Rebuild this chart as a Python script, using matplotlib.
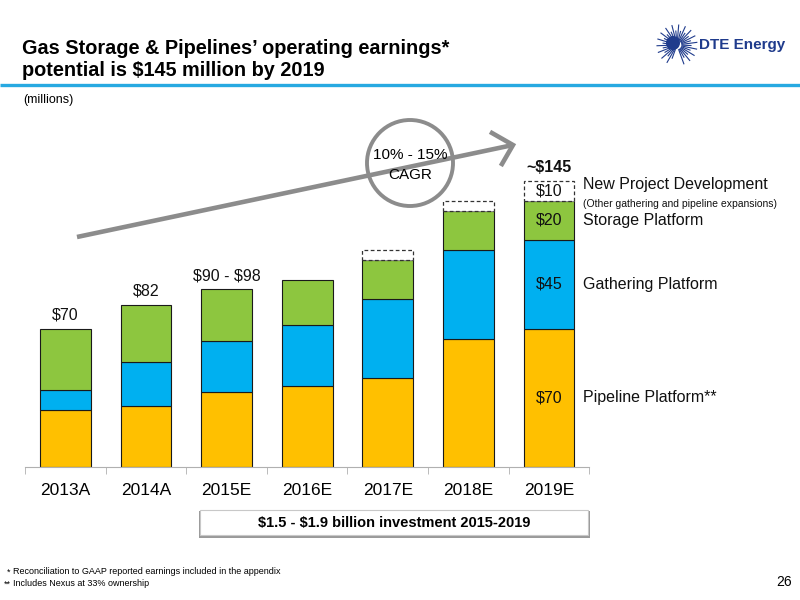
import numpy as np
import matplotlib
matplotlib.use("Agg")
import matplotlib.pyplot as plt
from matplotlib import font_manager
from matplotlib.patches import Circle, Rectangle

# Données (millions de $)
years = ["2013A", "2014A", "2015E", "2016E", "2017E", "2018E", "2019E"]
pipeline = [29, 31, 38, 41, 45, 65, 70]
gathering = [10, 22, 26, 31, 40, 45, 45]
storage = [31, 29, 26, 23, 20, 20, 20]
new_proj = [0, 0, 0, 0, 5, 5, 10]
total_labels = ["$70", "$82", "$90 - $98", "", "", "", "~$145"]
seg_names = ["Pipeline Platform**", "Gathering Platform", "Storage Platform",
             "New Project Development"]
seg_values_2019 = ["$70", "$45", "$20", "$10"]

YELLOW = "#FFC000"
BLUE = "#00B0F0"
GREEN = "#8DC63F"
GREY = "#8C8C8C"
NAVY = "#1F3B8C"


def esc(s):
    # éviter le mode mathtext avec les signes $
    return s.replace("$", r"\$")


# Police étroite si disponible
names = {f.name for f in font_manager.fontManager.ttflist}
HAS_NARROW = "Liberation Sans Narrow" in names
NARROW = "Liberation Sans Narrow" if HAS_NARROW else "Liberation Sans"
plt.rcParams["font.family"] = ["Liberation Sans", "DejaVu Sans"]

fig = plt.figure(figsize=(8, 6), dpi=100)

# Axe principal : ligne de base à y=467 px, 1.97 px par $
ax = fig.add_axes([25 / 800, (600 - 466.7) / 600, 564.3 / 800, 295.5 / 600])
x = np.arange(len(years))
w = 0.63
edge = dict(edgecolor="#1a1a1a", linewidth=0.8)

ax.bar(x, pipeline, w, color=YELLOW, **edge)
b1 = np.array(pipeline)
ax.bar(x, gathering, w, bottom=b1, color=BLUE, **edge)
b2 = b1 + np.array(gathering)
ax.bar(x, storage, w, bottom=b2, color=GREEN, **edge)
b3 = b2 + np.array(storage)
np_arr = np.array(new_proj)
mask = np_arr > 0
ax.bar(x[mask], np_arr[mask], w, bottom=b3[mask], color="white",
       edgecolor="#333333", linewidth=0.9, linestyle=(0, (3, 2)))
tops = b3 + np_arr

for xi, top, lbl in zip(x, tops, total_labels):
    if lbl:
        bold = lbl.startswith("~")
        ax.text(xi, top + 7, esc(lbl), ha="center", va="center", fontsize=11.5,
                fontweight="bold" if bold else "normal", color="#111111")

# Étiquettes internes et légende à droite (barre 2019E)
last = len(years) - 1
seg_bottoms = [0, b1[last], b2[last], b3[last]]
seg_heights = [pipeline[last], gathering[last], storage[last], new_proj[last]]
for bot, h, val, name in zip(seg_bottoms, seg_heights, seg_values_2019, seg_names):
    yc = bot + h / 2
    ax.text(last, yc, esc(val), ha="center", va="center", fontsize=11.5,
            color="#111111")
    dy = 3.5 if name.startswith("New") else 0
    ax.text(last + 0.42, yc + dy, name, ha="left", va="center", fontsize=11.5,
            color="#111111", clip_on=False)
ax.text(last + 0.42, b3[last] - 1.5, "(Other gathering and pipeline expansions)",
        ha="left", va="center", fontsize=7.5, color="#111111", clip_on=False)

ax.set_xlim(-0.5, len(years) - 0.5)
ax.set_ylim(0, 150)
for s in ["top", "right", "left"]:
    ax.spines[s].set_visible(False)
ax.spines["bottom"].set_color("#B0B0B0")
ax.set_yticks([])
ax.set_xticks(x)
ax.set_xticklabels(years, fontsize=12.5, family=NARROW)
ax.set_xticks(np.arange(-0.5, len(years)), minor=True)
ax.tick_params(axis="x", which="major", length=0, pad=12)
ax.tick_params(axis="x", which="minor", length=5, color="#B0B0B0")
ax.patch.set_alpha(0)

# Calque en pixels pour les décorations de la diapositive
ov = fig.add_axes([0, 0, 1, 1], zorder=5)
ov.set_xlim(0, 800)
ov.set_ylim(600, 0)
ov.axis("off")
ov.patch.set_alpha(0)

title_fs = 16 if HAS_NARROW else 14.3
ov.text(22, 49, "Gas Storage & Pipelines’ operating earnings*", fontsize=title_fs,
        fontweight="bold", family=NARROW, va="center", ha="left", color="black")
ov.text(22, 71, esc("potential is $145 million by 2019"), fontsize=title_fs,
        fontweight="bold", family=NARROW, va="center", ha="left", color="black")
ov.plot([0, 800], [85, 85], color="#27A9E1", lw=2.4, solid_capstyle="butt")
ov.text(23, 100, "(millions)", fontsize=9, family=NARROW, va="center", ha="left")

# Logo
cx, cy = 677, 45
angles = np.linspace(-70, 250, 34)
for i, a in enumerate(angles):
    r = 20 if i % 2 == 0 else 14
    t = np.deg2rad(a)
    ov.plot([cx + 5 * np.cos(t), cx + r * np.cos(t)],
            [cy - 5 * np.sin(t), cy - r * np.sin(t)], color=NAVY, lw=0.8)
ov.add_patch(Circle((cx - 4, cy - 2), 7, color=NAVY, lw=0))
ov.text(699, 45, "DTE Energy", fontsize=11, fontweight="bold", color=NAVY,
        va="center", ha="left")

# Flèche de croissance et cercle TCAC
ov.plot([77, 513], [237, 145], color=GREY, lw=3.3, solid_capstyle="butt")
ov.plot([492, 513, 502], [133, 145, 164], color=GREY, lw=3.3,
        solid_joinstyle="miter")
ov.add_patch(Circle((410, 163), 43, facecolor="white", edgecolor=GREY, lw=2.8))
ov.text(410, 155, "10% - 15%", fontsize=11, ha="center", va="center")
ov.text(410, 175, "CAGR", fontsize=11, ha="center", va="center")

# Encadré investissement
ov.add_patch(Rectangle((199, 511), 391, 27, facecolor="#9A9A9A", lw=0))
ov.add_patch(Rectangle((200, 510), 388, 25, facecolor="white",
                       edgecolor="#C8C8C8", lw=0.8))
ov.text(394, 522.5, esc("$1.5 - $1.9 billion investment 2015-2019"),
        fontsize=11.5 if HAS_NARROW else 10.5, fontweight="bold", family=NARROW,
        ha="center", va="center")

# Notes de bas de page
ov.text(7, 572, "*", fontsize=6.5, family=NARROW, va="center")
ov.text(13, 572, "Reconciliation to GAAP reported earnings included in the appendix",
        fontsize=6.5, family=NARROW, va="center")
ov.text(4, 584, "**", fontsize=6.5, family=NARROW, va="center")
ov.text(13, 584, "Includes Nexus at 33% ownership", fontsize=6.5, family=NARROW,
        va="center")
ov.text(792, 582, "26", fontsize=10, ha="right", va="center")

fig.savefig("out.png", dpi=100)
